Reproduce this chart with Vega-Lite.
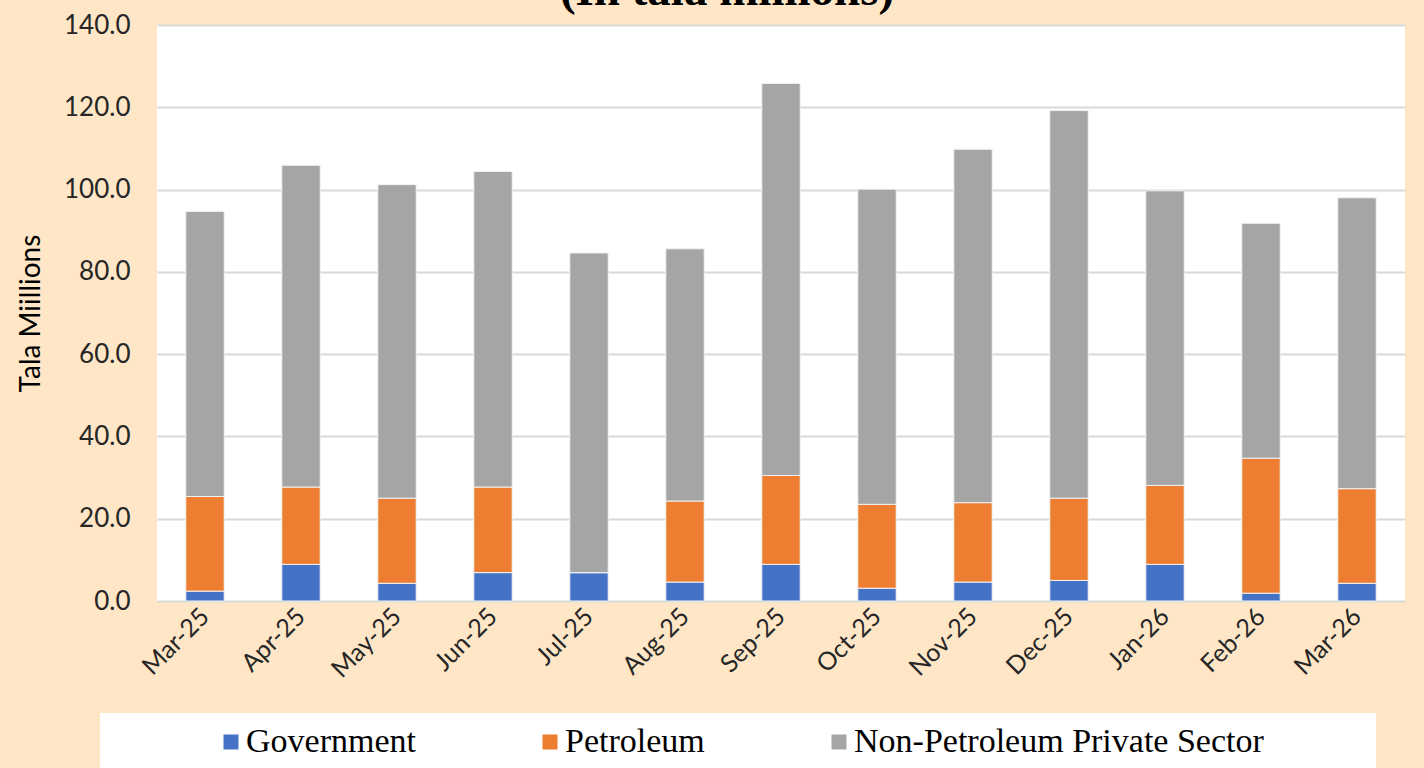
{
  "$schema": "https://vega.github.io/schema/vega-lite/v6.json",
  "width": 1248,
  "height": 576,
  "autosize": {"type": "none"},
  "padding": {"left": 157, "top": 25, "right": 19, "bottom": 167},
  "background": "#FFE6C6",
  "view": {"fill": "white", "stroke": null},
  "title": {
    "text": "(In tala millions)",
    "font": "Liberation Serif",
    "fontSize": 47,
    "fontWeight": "bold",
    "color": "black",
    "anchor": "middle",
    "frame": "group",
    "dx": -54,
    "dy": 40,
    "offset": 0,
    "baseline": "alphabetic"
  },
  "data": {
    "values": [
      {"month": "Mar-25", "category": "Government", "order": 1, "value": 2.4},
      {"month": "Mar-25", "category": "Petroleum", "order": 2, "value": 23.0},
      {"month": "Mar-25", "category": "Non-Petroleum Private Sector", "order": 3, "value": 69.3},
      {"month": "Apr-25", "category": "Government", "order": 1, "value": 8.9},
      {"month": "Apr-25", "category": "Petroleum", "order": 2, "value": 18.8},
      {"month": "Apr-25", "category": "Non-Petroleum Private Sector", "order": 3, "value": 78.2},
      {"month": "May-25", "category": "Government", "order": 1, "value": 4.3},
      {"month": "May-25", "category": "Petroleum", "order": 2, "value": 20.7},
      {"month": "May-25", "category": "Non-Petroleum Private Sector", "order": 3, "value": 76.2},
      {"month": "Jun-25", "category": "Government", "order": 1, "value": 6.9},
      {"month": "Jun-25", "category": "Petroleum", "order": 2, "value": 20.8},
      {"month": "Jun-25", "category": "Non-Petroleum Private Sector", "order": 3, "value": 76.7},
      {"month": "Jul-25", "category": "Government", "order": 1, "value": 6.9},
      {"month": "Jul-25", "category": "Petroleum", "order": 2, "value": 0.0},
      {"month": "Jul-25", "category": "Non-Petroleum Private Sector", "order": 3, "value": 77.7},
      {"month": "Aug-25", "category": "Government", "order": 1, "value": 4.6},
      {"month": "Aug-25", "category": "Petroleum", "order": 2, "value": 19.7},
      {"month": "Aug-25", "category": "Non-Petroleum Private Sector", "order": 3, "value": 61.3},
      {"month": "Sep-25", "category": "Government", "order": 1, "value": 8.9},
      {"month": "Sep-25", "category": "Petroleum", "order": 2, "value": 21.6},
      {"month": "Sep-25", "category": "Non-Petroleum Private Sector", "order": 3, "value": 95.3},
      {"month": "Oct-25", "category": "Government", "order": 1, "value": 3.1},
      {"month": "Oct-25", "category": "Petroleum", "order": 2, "value": 20.4},
      {"month": "Oct-25", "category": "Non-Petroleum Private Sector", "order": 3, "value": 76.6},
      {"month": "Nov-25", "category": "Government", "order": 1, "value": 4.6},
      {"month": "Nov-25", "category": "Petroleum", "order": 2, "value": 19.3},
      {"month": "Nov-25", "category": "Non-Petroleum Private Sector", "order": 3, "value": 85.9},
      {"month": "Dec-25", "category": "Government", "order": 1, "value": 5.0},
      {"month": "Dec-25", "category": "Petroleum", "order": 2, "value": 20.0},
      {"month": "Dec-25", "category": "Non-Petroleum Private Sector", "order": 3, "value": 94.2},
      {"month": "Jan-26", "category": "Government", "order": 1, "value": 8.9},
      {"month": "Jan-26", "category": "Petroleum", "order": 2, "value": 19.2},
      {"month": "Jan-26", "category": "Non-Petroleum Private Sector", "order": 3, "value": 71.6},
      {"month": "Feb-26", "category": "Government", "order": 1, "value": 1.9},
      {"month": "Feb-26", "category": "Petroleum", "order": 2, "value": 32.8},
      {"month": "Feb-26", "category": "Non-Petroleum Private Sector", "order": 3, "value": 57.1},
      {"month": "Mar-26", "category": "Government", "order": 1, "value": 4.3},
      {"month": "Mar-26", "category": "Petroleum", "order": 2, "value": 23.0},
      {"month": "Mar-26", "category": "Non-Petroleum Private Sector", "order": 3, "value": 70.7}
    ]
  },
  "mark": {"type": "bar", "stroke": "#F2F2F2", "strokeWidth": 1},
  "encoding": {
    "x": {
      "field": "month",
      "type": "ordinal",
      "sort": null,
      "scale": {"paddingInner": 0.6, "paddingOuter": 0.3},
      "axis": {
        "title": null,
        "labelAngle": -45,
        "labelAlign": "right",
        "labelBaseline": "middle",
        "labelFont": "Lato",
        "labelFontSize": 25,
        "labelColor": "#262626",
        "labelPadding": 11,
        "ticks": false,
        "domain": false,
        "grid": false
      }
    },
    "y": {
      "field": "value",
      "type": "quantitative",
      "stack": "zero",
      "scale": {"domain": [0, 140], "nice": false},
      "axis": {
        "title": "Tala Miillions",
        "titleFont": "Lato",
        "titleFontSize": 28,
        "titleFontWeight": "normal",
        "titleColor": "#000000",
        "titlePadding": 18,
        "values": [0, 20, 40, 60, 80, 100, 120, 140],
        "format": ".1f",
        "labelFont": "Lato",
        "labelFontSize": 26,
        "labelColor": "#262626",
        "labelPadding": 27,
        "ticks": false,
        "domain": false,
        "grid": true,
        "gridColor": "#D9D9D9",
        "gridWidth": 2
      }
    },
    "color": {
      "field": "category",
      "type": "nominal",
      "scale": {
        "domain": ["Government", "Petroleum", "Non-Petroleum Private Sector"],
        "range": ["#4472C4", "#ED7D31", "#A5A5A5"]
      },
      "legend": {
        "orient": "none",
        "legendX": -57,
        "legendY": 688,
        "direction": "horizontal",
        "columns": 3,
        "fillColor": "white",
        "padding": 12,
        "title": "\u00a0",
        "titleOrient": "left",
        "titlePadding": 102,
        "titleFont": "Liberation Serif",
        "titleFontSize": 34,
        "symbolType": "square",
        "symbolSize": 225,
        "symbolStrokeWidth": 0,
        "labelFont": "Liberation Serif",
        "labelFontSize": 34,
        "labelColor": "#000000",
        "labelOffset": -2,
        "labelLimit": 0,
        "columnPadding": 117,
        "labelExpr": "datum.value == 'Non-Petroleum Private Sector' ? datum.label + '\u2800\u2800\u2800\u2800' : datum.label"
      }
    },
    "order": {"field": "order", "type": "quantitative"}
  }
}
